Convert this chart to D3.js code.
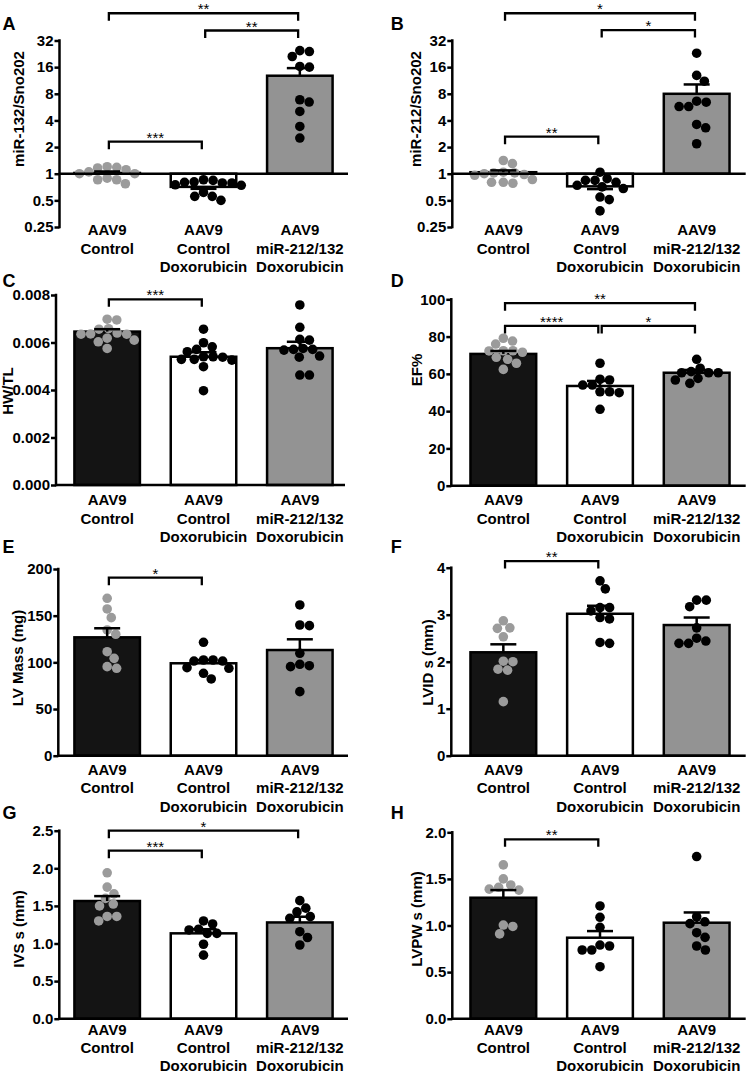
<!DOCTYPE html>
<html><head><meta charset="utf-8">
<script src="https://cdn.jsdelivr.net/npm/d3@7"></script>
<style>
body{margin:0;background:#fff}
svg{display:block;font-family:"Liberation Sans",Arial,Helvetica,sans-serif}
</style>
</head><body>
<svg id="chart" width="747" height="1074"></svg>
<script>
// ---------- categories ----------
const categories = [
  ["AAV9", "Control"],
  ["AAV9", "Control", "Doxorubicin"],
  ["AAV9", "miR-212/132", "Doxorubicin"]
];

// ---------- Panel A: miR-132/Sno202 ----------
const aControl = [1.18, 1.11, 1.05, 1.16, 1.2, 1.0, 1.0, 0.855, 0.77, 0.855, 0.89];
const aDox = [0.855, 0.8, 0.785, 0.74, 0.75, 0.785, 0.81, 0.84, 0.555, 0.5, 0.555, 0.615];
const aMir = [24.6, 24, 21.1, 16, 16.3, 6.85, 6.45, 5.05, 3.42, 2.53];
const aMean = [1.02, 0.71, 12.8];
const aSem = [0.04, 0.035, 2.8];
const aTicks = [0.25, 0.5, 1, 2, 4, 8, 16, 32];
const aTickLabels = ["0.25", "0.5", "1", "2", "4", "8", "16", "32"];
const aBrackets = [[0, 2, "**", 65], [1, 2, "**", 41.5], [0, 1, "***", 2.3]];

// ---------- Panel B: miR-212/Sno202 ----------
const bControl = [1.41, 1.3, 1.02, 1.0, 1.04, 1.02, 0.96, 0.98, 0.80, 0.78, 0.80, 0.86];
const bDox = [0.88, 0.84, 1.04, 0.74, 0.71, 0.68, 0.80, 0.84, 0.545, 0.51, 0.38];
const bMir = [23, 12.9, 11.1, 6.43, 5.74, 5.74, 6.6, 3.6, 3.3, 2.18];
const bMean = [1.04, 0.72, 8.0];
const bSem = [0.05, 0.05, 2.2];
const bTicks = [0.25, 0.5, 1, 2, 4, 8, 16, 32];
const bTickLabels = ["0.25", "0.5", "1", "2", "4", "8", "16", "32"];
const bBrackets = [[0, 2, "*", 65], [1, 2, "*", 42], [0, 1, "**", 2.62]];

// ---------- Panel C: HW/TL ----------
const cControl = [0.00698, 0.00695, 0.00656, 0.00658, 0.00635, 0.00635, 0.00636, 0.0064, 0.0061, 0.00603, 0.00575, 0.00618];
const cDox = [0.00656, 0.00599, 0.00582, 0.00571, 0.00561, 0.0054, 0.00529, 0.00538, 0.0054, 0.00529, 0.00526, 0.00498, 0.00397];
const cMir = [0.00758, 0.00664, 0.0061, 0.00613, 0.00571, 0.00568, 0.00575, 0.00571, 0.00543, 0.00538, 0.00463, 0.00463];
const cMean = [0.00646, 0.0054, 0.00576];
const cSem = [0.0001, 0.00019, 0.00027];
const cTicks = [0, 0.002, 0.004, 0.006, 0.008];
const cTickLabels = ["0.000", "0.002", "0.004", "0.006", "0.008"];
const cBrackets = [[0, 1, "***", 0.00782]];

// ---------- Panel D: EF% ----------
const dControl = [79.1, 77.6, 76, 71.6, 72.4, 72.4, 72.3, 67.8, 68.9, 65.7, 62.4];
const dDox = [65.7, 56.7, 54, 54, 57.1, 50.4, 49.9, 50.4, 41];
const dMir = [67.8, 63, 60.6, 60.6, 60.6, 61.2, 57.6, 54.9, 56.7];
const dMean = [70.7, 53.5, 60.6];
const dSem = [1.6, 2.7, 1.5];
const dTicks = [0, 20, 40, 60, 80, 100];
const dTickLabels = ["0", "20", "40", "60", "80", "100"];
const dBrackets = [[0, 2, "**", 97.9], [0, 1, "****", 85.7], [1, 2, "*", 85.7]];

// ---------- Panel E: LV Mass (mg) ----------
const eControl = [168.6, 157.2, 147.9, 134.7, 130.1, 111.4, 104.3, 95.4, 93.6];
const eDox = [121.5, 102.5, 101.4, 101.4, 102.5, 93.6, 94.3, 88.3, 82.2];
const eMir = [161.5, 140, 139.3, 109.7, 96.4, 95.4, 97.9, 68.6];
const eMean = [126.8, 99, 113.2];
const eSem = [9.7, 3.5, 11.5];
const eTicks = [0, 50, 100, 150, 200];
const eTickLabels = ["0", "50", "100", "150", "200"];
const eBrackets = [[0, 1, "*", 190.7]];

// ---------- Panel F: LVID s (mm) ----------
const fControl = [2.87, 2.71, 2.72, 2.53, 2.01, 2.0, 1.84, 1.82, 1.15];
const fDox = [3.72, 3.55, 3.15, 3.15, 3.08, 2.94, 2.91, 2.39, 2.41];
const fMir = [3.31, 3.31, 3.17, 2.72, 2.44, 2.39, 2.39, 2.5];
const fMean = [2.2, 3.02, 2.78];
const fSem = [0.17, 0.17, 0.16];
const fTicks = [0, 1, 2, 3, 4];
const fTickLabels = ["0", "1", "2", "3", "4"];
const fBrackets = [[0, 1, "**", 4.14]];

// ---------- Panel G: IVS s (mm) ----------
const gControl = [1.94, 1.75, 1.66, 1.6, 1.525, 1.5, 1.36, 1.36, 1.3];
const gDox = [1.26, 1.3, 1.19, 1.18, 1.135, 1.135, 0.99, 0.845];
const gMir = [1.57, 1.47, 1.42, 1.335, 1.357, 1.157, 1.08, 0.98];
const gMean = [1.565, 1.135, 1.28];
const gSem = [0.065, 0.055, 0.076];
const gTicks = [0, 0.5, 1, 1.5, 2, 2.5];
const gTickLabels = ["0.0", "0.5", "1.0", "1.5", "2.0", "2.5"];
const gBrackets = [[0, 2, "*", 2.5], [0, 1, "***", 2.234]];

// ---------- Panel H: LVPW s (mm) ----------
const hControl = [1.65, 1.5, 1.435, 1.39, 1.38, 1.41, 1.005, 0.99, 0.91];
const hDox = [1.21, 1.088, 0.98, 0.79, 0.737, 0.737, 0.78, 0.558];
const hMir = [1.74, 1.094, 1.04, 1.02, 0.923, 0.873, 0.78, 0.737];
const hMean = [1.298, 0.869, 1.03];
const hSem = [0.082, 0.071, 0.11];
const hTicks = [0, 0.5, 1, 1.5, 2];
const hTickLabels = ["0.0", "0.5", "1.0", "1.5", "2.0"];
const hBrackets = [[0, 1, "**", 1.925]];

// ---------- layout (not data) ----------
const L = { band: [59, 348], xEnd: 348, letterX: 2.5 };
const R = { band: [455, 745], xEnd: 745.7, letterX: 390.7 };
const panels = [
  {letter:"A", col:L, log:true, domain:[0.25,32], yRange:[227,40.5], axisX:59.5, letterY:29.5, titleX:19, titleY:109, labelY:235,
   title:"miR-132/Sno202", groups:[aControl,aDox,aMir], mean:aMean, sem:aSem, ticks:aTicks, tickLabels:aTickLabels, brackets:aBrackets},
  {letter:"B", col:R, log:true, domain:[0.25,32], yRange:[227,40.5], axisX:452.3, letterY:29.5, titleX:415.7, titleY:109, labelY:235,
   title:"miR-212/Sno202", groups:[bControl,bDox,bMir], mean:bMean, sem:bSem, ticks:bTicks, tickLabels:bTickLabels, brackets:bBrackets},
  {letter:"C", col:L, log:false, domain:[0,0.008], yRange:[485,295], axisX:56, letterY:286.5, titleX:7.5, titleY:391, labelY:505,
   title:"HW/TL", groups:[cControl,cDox,cMir], mean:cMean, sem:cSem, ticks:cTicks, tickLabels:cTickLabels, brackets:cBrackets, xEnd:345},
  {letter:"D", col:R, log:false, domain:[0,100], yRange:[485.7,299.3], axisX:451.3, letterY:287, titleX:416.5, titleY:370, labelY:505,
   title:"EF%", groups:[dControl,dDox,dMir], mean:dMean, sem:dSem, ticks:dTicks, tickLabels:dTickLabels, brackets:dBrackets},
  {letter:"E", col:L, log:false, domain:[0,200], yRange:[755.7,569], axisX:58.3, letterY:553, titleX:17.5, titleY:658, labelY:774.5,
   title:"LV Mass (mg)", groups:[eControl,eDox,eMir], mean:eMean, sem:eSem, ticks:eTicks, tickLabels:eTickLabels, brackets:eBrackets},
  {letter:"F", col:R, log:false, domain:[0,4], yRange:[755.7,567.7], axisX:451.3, letterY:553, titleX:428, titleY:662.5, labelY:774.5,
   title:"LVID s (mm)", groups:[fControl,fDox,fMir], mean:fMean, sem:fSem, ticks:fTicks, tickLabels:fTickLabels, brackets:fBrackets},
  {letter:"G", col:L, log:false, domain:[0,2.5], yRange:[1018.7,830.7], axisX:59.3, letterY:818.5, titleX:19, titleY:929, labelY:1034.8,
   title:"IVS s (mm)", groups:[gControl,gDox,gMir], mean:gMean, sem:gSem, ticks:gTicks, tickLabels:gTickLabels, brackets:gBrackets, lineGap:17.9},
  {letter:"H", col:R, log:false, domain:[0,2], yRange:[1018.7,832.3], axisX:452.3, letterY:819, titleX:416.5, titleY:919, labelY:1034.8,
   title:"LVPW s (mm)", groups:[hControl,hDox,hMir], mean:hMean, sem:hSem, ticks:hTicks, tickLabels:hTickLabels, brackets:hBrackets, lineGap:17.9}
];

const barFills = ["#141414", "#ffffff", "#939393"];
const pointFills = ["#9b9b9b", "#000000", "#000000"];
const LW = 2.5, R_PT = 4.8, MIN_D = 9.6, CAP = 26, TIP = 7.5;

const svg = d3.select("#chart");

function swarm(vals, cx, y) {
  const pts = vals.map(v => ({ v, y: y(v) })).sort((a, b) => a.y - b.y);
  const placed = [];
  for (const p of pts) {
    const cands = [0];
    for (const q of placed) {
      const dy = Math.abs(q.y - p.y);
      if (dy < MIN_D) {
        const dx = Math.sqrt(MIN_D * MIN_D - dy * dy);
        cands.push(q.dx + dx, q.dx - dx);
      }
    }
    cands.sort((a, b) => Math.abs(a) - Math.abs(b));
    p.dx = cands[cands.length - 1];
    for (const c of cands) {
      if (placed.every(q => (q.dx - c) ** 2 + (q.y - p.y) ** 2 >= MIN_D * MIN_D - 1e-6)) { p.dx = c; break; }
    }
    placed.push(p);
  }
  return placed.map(p => ({ x: cx + p.dx, y: p.y }));
}

panels.forEach(p => {
  const g = svg.append("g");
  const x = d3.scaleBand().domain([0, 1, 2]).range(p.col.band).paddingInner(0.32).paddingOuter(0.16);
  const y = p.log
    ? d3.scaleLog().base(2).domain(p.domain).range(p.yRange)
    : d3.scaleLinear().domain(p.domain).range(p.yRange);
  const base = p.log ? 1 : 0;
  const xEnd = p.xEnd || p.col.xEnd;
  const gap = p.lineGap || 18.5;
  const cx = i => x(i) + x.bandwidth() / 2;

  // bars
  g.selectAll("rect.bar").data(p.mean).join("rect")
    .attr("class", "bar")
    .attr("x", (d, i) => x(i))
    .attr("width", x.bandwidth())
    .attr("y", d => Math.min(y(d), y(base)))
    .attr("height", d => Math.abs(y(d) - y(base)))
    .attr("fill", (d, i) => barFills[i])
    .attr("stroke", "#000")
    .attr("stroke-width", LW);

  // points
  p.groups.forEach((vals, i) => {
    g.append("g").selectAll("circle").data(swarm(vals, cx(i), y)).join("circle")
      .attr("cx", d => d.x).attr("cy", d => d.y).attr("r", R_PT)
      .attr("fill", pointFills[i]);
  });

  // error bars (direction away from the baseline)
  p.mean.forEach((m, i) => {
    const e = m >= base ? m + p.sem[i] : m - p.sem[i];
    g.append("line").attr("x1", cx(i)).attr("x2", cx(i)).attr("y1", y(m)).attr("y2", y(e))
      .attr("stroke", "#000").attr("stroke-width", LW);
    g.append("line").attr("x1", cx(i) - CAP / 2).attr("x2", cx(i) + CAP / 2).attr("y1", y(e)).attr("y2", y(e))
      .attr("stroke", "#000").attr("stroke-width", LW);
  });

  // y axis
  const ax = g.append("g").attr("transform", `translate(${p.axisX},0)`)
    .call(d3.axisLeft(y).tickValues(p.ticks).tickFormat((d, i) => p.tickLabels[i]).tickSize(5).tickSizeOuter(0).tickPadding(1));
  ax.select(".domain").attr("stroke", "#000").attr("stroke-width", LW)
    .attr("d", `M0,${p.yRange[0] + LW / 2}V${p.yRange[1] - LW / 2}`);
  ax.selectAll(".tick line").attr("stroke", "#000").attr("stroke-width", LW);
  ax.selectAll(".tick text").attr("fill", "#000").style("font-size", "15px").style("font-weight", "bold")
    .style("font-family", '"Liberation Sans",Arial,sans-serif');

  // x baseline
  g.append("line").attr("x1", p.axisX).attr("x2", xEnd).attr("y1", y(base)).attr("y2", y(base))
    .attr("stroke", "#000").attr("stroke-width", LW);

  // category labels
  categories.forEach((lines, i) => {
    const t = g.append("text").attr("text-anchor", "middle").attr("font-size", 15).attr("font-weight", "bold").attr("fill", "#000");
    lines.forEach((ln, k) => t.append("tspan").attr("x", cx(i)).attr("y", p.labelY + k * gap).text(ln));
  });

  // significance brackets
  p.brackets.forEach(([a, b, lab, lev]) => {
    const x1 = cx(a) + 1.7, x2 = cx(b) - 1.7, yy = y(lev);
    g.append("path")
      .attr("d", `M${x1},${yy + TIP}V${yy}H${x2}V${yy + TIP}`)
      .attr("fill", "none").attr("stroke", "#000").attr("stroke-width", 2.3);
    g.append("text").attr("x", (x1 + x2) / 2).attr("y", yy + 1).attr("text-anchor", "middle")
      .attr("font-size", 15).attr("fill", "#000").text(lab);
  });

  // y title
  g.append("text").attr("transform", `translate(${p.titleX},${p.titleY}) rotate(-90)`)
    .attr("text-anchor", "middle").attr("dy", "0.36em")
    .attr("font-size", 15).attr("font-weight", "bold").attr("fill", "#000").text(p.title);

  // panel letter
  g.append("text").attr("x", p.col.letterX).attr("y", p.letterY)
    .attr("font-size", 18).attr("font-weight", "bold").attr("fill", "#000").text(p.letter);
});
</script>
</body></html>
